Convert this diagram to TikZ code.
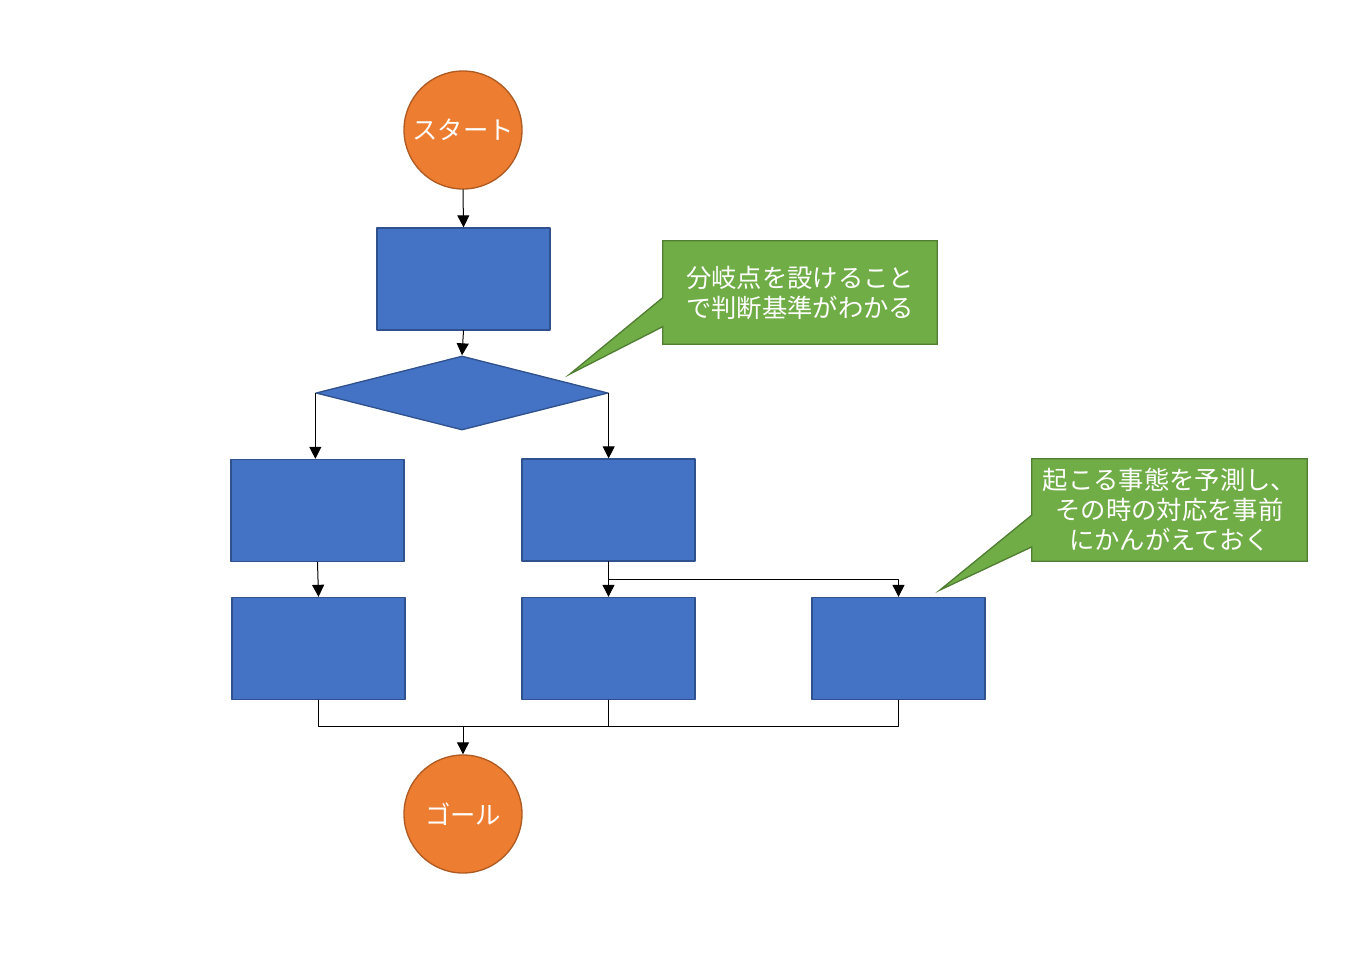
\documentclass[tikz,border=0pt]{standalone}
\usepackage{fontspec}
\newfontfamily\jpfont{Noto Sans CJK JP}
\usepackage{tikz}
\usetikzlibrary{shapes.geometric}
\usetikzlibrary{arrows.meta}
\usetikzlibrary{calc}
\usetikzlibrary{backgrounds}
\begin{document}
\begin{tikzpicture}[line cap=round,line join=round,>={Triangle[length=9pt,width=9pt]},x=.75pt,y=-.75pt,
  terminal/.style={circle,minimum size=88.5pt,inner sep=0pt,fill=oorange,draw=dorange,line width=1pt,text=white,font=\jpfont\fontsize{19}{22.5}\selectfont},
  process/.style={rectangle,minimum width=129.75pt,minimum height=76.5pt,inner sep=0pt,fill=bblue,draw=dblue,line width=1pt},
  decision/.style={diamond,minimum width=219pt,minimum height=55.5pt,inner sep=0pt,fill=bblue,draw=dblue,line width=1pt},
  notetext/.style={rectangle,inner sep=0pt,align=center,text=white,font=\jpfont\fontsize{19}{22.5}\selectfont},
  noteshape/.style={fill=ggreen,draw=dgreen,line width=1pt},
  link/.style={line width=.75pt,color=black}]
\definecolor{bblue}{HTML}{4472C4}
\definecolor{dblue}{HTML}{2F528F}
\definecolor{oorange}{HTML}{ED7D31}
\definecolor{dorange}{HTML}{AE5A21}
\definecolor{ggreen}{HTML}{70AD47}
\definecolor{dgreen}{HTML}{507E32}
\useasboundingbox (0,0) rectangle (1347,960);
\node[terminal] (start) at (463,130) {スタート};
\node[process] (box1) at (463.5,279) {};
\node[decision] (dia) at (462,393) {};
\node[process] (boxL1) at (317.5,510.5) {};
\node[process] (boxR1) at (608.5,510) {};
\node[process] (boxL2) at (318.5,648.5) {};
\node[process] (boxR2) at (608.5,648.5) {};
\node[process] (boxR3) at (898.5,648.5) {};
\node[terminal] (goal) at (463,814) {ゴール};
\node[notetext,minimum width=205.5pt,minimum height=77.25pt] (note1) at (800,292.5) {分岐点を設けること\\で判断基準がわかる};
\node[notetext,minimum width=206.25pt,minimum height=76.5pt] (note2) at (1169.5,510) {起こる事態を予測し、\\その時の対応を事前\\にかんがえておく};
\coordinate (tip1) at (570,374);
\coordinate (tip2) at (940,590);
\begin{pgfonlayer}{background}
\draw[noteshape] (note1.north west) -- (note1.north east) -- (note1.south east) -- (note1.south west) -- ($(note1.south west)!0.17!(note1.north west)$) -- (tip1) -- ($(note1.south west)!0.45!(note1.north west)$) -- cycle;
\draw[noteshape] (note2.north west) -- (note2.north east) -- (note2.south east) -- (note2.south west) -- ($(note2.south west)!0.14!(note2.north west)$) -- (tip2) -- ($(note2.south west)!0.45!(note2.north west)$) -- cycle;
\end{pgfonlayer}
\draw[link,->] (start.south) -- (box1.north);
\draw[link,->] (box1.south) -- (dia.north);
\draw[link,->] (dia.west) -- (dia.west |- boxL1.north);
\draw[link,->] (dia.east) -- (dia.east |- boxR1.north);
\draw[link,->] (boxL1.south) -- (boxL2.north);
\draw[link,->] (boxR1.south) -- (boxR2.north);
\draw[link,->] ($(boxR1.south)!0.5!(boxR2.north)$) -| (boxR3.north);
\coordinate (merge) at ($(goal.north)+(0,-28)$);
\draw[link] (boxL2.south) |- (merge);
\draw[link] (boxR2.south) |- (merge);
\draw[link] (boxR3.south) |- (merge);
\draw[link,->] (merge) -- (goal.north);
\end{tikzpicture}
\end{document}
